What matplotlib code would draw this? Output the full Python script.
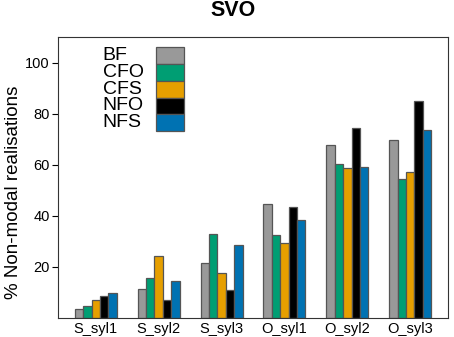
import numpy as np
import matplotlib
matplotlib.use('Agg')
import matplotlib.pyplot as plt
from matplotlib.patches import Rectangle

plt.rcParams['font.family'] = ['Liberation Sans', 'DejaVu Sans']

categories = ['S_syl1', 'S_syl2', 'S_syl3', 'O_syl1', 'O_syl2', 'O_syl3']
series = ['BF', 'CFO', 'CFS', 'NFO', 'NFS']
colors = ['#999999', '#009E73', '#E69F00', '#000000', '#0072B2']

BF = [3.5, 11.4, 21.4, 44.7, 67.7, 69.8]
CFO = [4.5, 15.5, 32.7, 32.5, 60.2, 54.4]
CFS = [6.9, 24.3, 17.8, 29.5, 58.9, 57.1]
NFO = [8.7, 7.2, 11.0, 43.4, 74.5, 85.1]
NFS = [9.6, 14.4, 28.7, 38.3, 59.0, 73.7]
values = [BF, CFO, CFS, NFO, NFS]

fig = plt.figure(figsize=(4.54, 3.37), dpi=100)
ax = fig.add_axes([0.1278, 0.0564, 0.859, 0.8338])

pitch = 7.5
centers = np.arange(len(categories)) * pitch
for k, (vals, col) in enumerate(zip(values, colors)):
    ax.bar(centers + (k - 2), vals, width=1.0, color=col,
           edgecolor='#555555', linewidth=0.9)

ax.set_xlim(-4.5, 42)
ax.set_ylim(0, 110)
ax.set_xticks(centers)
ax.set_xticklabels(categories, fontsize=10.5)
ax.tick_params(axis='x', length=0, pad=3)
ax.set_yticks([20, 40, 60, 80, 100])
ax.tick_params(axis='y', labelsize=10.5, length=4, pad=2, direction='out')
for s in ax.spines.values():
    s.set_linewidth(0.8)
    s.set_color('#333333')

fig.text(14 / 454, 0.5 - (192 - 168.5) / 337, '% Non-modal realisations',
         rotation=90, fontsize=13.5, ha='center', va='center')
fig.text(233 / 454, 1 - 10 / 337, 'SVO', fontsize=15.5, fontweight='bold',
         ha='center', va='center')

# legend: labels left, colour boxes stacked on the right
x_txt, x_box, box_w = 0.115, 0.252, 0.07
y_top, row_h = 0.9628, 0.0594
for k, (name, col) in enumerate(zip(series, colors)):
    y0 = y_top - (k + 1) * row_h
    ax.add_patch(Rectangle((x_box, y0), box_w, row_h, transform=ax.transAxes,
                           facecolor=col, edgecolor='#555555', linewidth=0.9))
    ax.text(x_txt, y0 + row_h / 2, name, transform=ax.transAxes,
            fontsize=14, va='center', ha='left')

fig.savefig('out.png', dpi=100)
